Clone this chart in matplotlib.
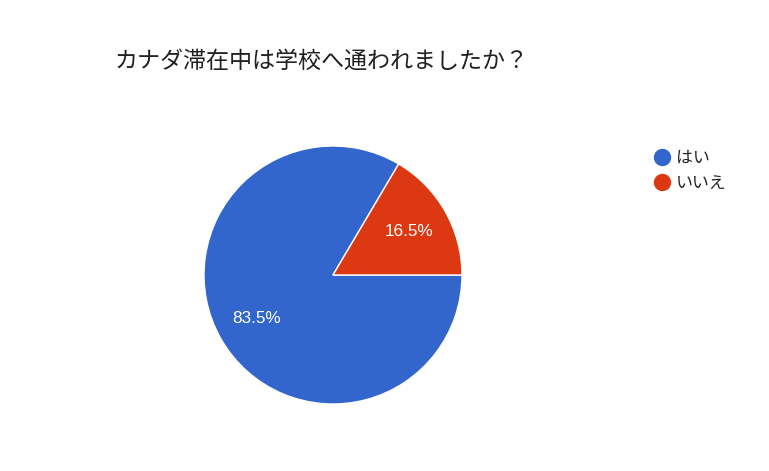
import matplotlib.pyplot as plt
from matplotlib.lines import Line2D

plt.rcParams['font.family'] = ['Noto Sans CJK JP', 'DejaVu Sans']

title = 'カナダ滞在中は学校へ通われましたか？'
labels = ['はい', 'いいえ']
shares = [83.5, 16.5]
colors = ['#3366cc', '#dc3912']

fig = plt.figure(figsize=(7.69, 4.71), dpi=100)
fig.text(115 / 769, 1 - 61 / 471, title, fontsize=16.6, color='#212121',
         va='center', ha='left')

# pie: center (333,275) px, radius 129 px
ax = fig.add_axes([(333 - 129) / 769, (471 - 275 - 129) / 471, 258 / 769, 258 / 471])
wedges, texts, autotexts = ax.pie(
    shares, colors=colors, startangle=360 * shares[1] / 100,
    autopct='%.1f%%', pctdistance=0.68,
    wedgeprops=dict(edgecolor='white', linewidth=1),
    textprops=dict(color='white', fontsize=12.3, family=['Liberation Sans', 'DejaVu Sans']))
ax.set_xlim(-1, 1)
ax.set_ylim(-1, 1)
ax.set_aspect('auto')
ax.axis('off')

handles = [Line2D([0], [0], marker='o', linestyle='none', markersize=11.5,
                  markerfacecolor=c, markeredgecolor=c) for c in colors]
fig.legend(handles, labels, loc='upper left', bbox_to_anchor=(645 / 769, 1 - 140 / 471),
           frameon=False, fontsize=12.2, labelcolor='#222222', handletextpad=0.35,
           labelspacing=0.45, borderpad=0, handlelength=1.0)

fig.savefig('out.png', dpi=100)
